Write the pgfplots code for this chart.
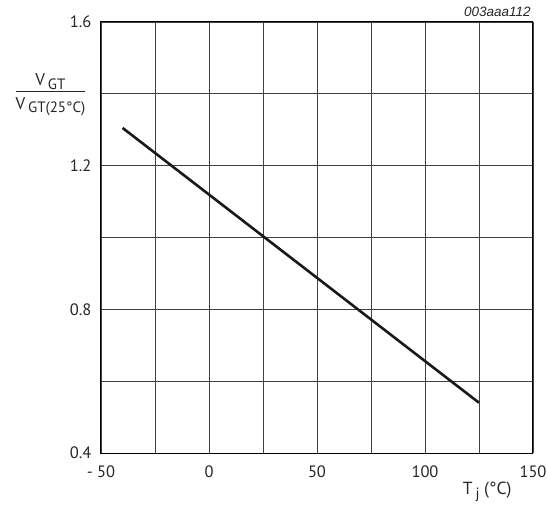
\documentclass[border=0pt]{standalone}
\usepackage{pgfplots}
\pgfplotsset{compat=1.18}
\usepackage{fontspec}
\setmainfont{PT Sans}
\newfontfamily\helv{Liberation Sans}
\begin{document}
\begin{tikzpicture}
\path[use as bounding box] (-101pt,-59pt) rectangle (446pt,453pt);
\begin{axis}[
  at={(0,0)}, anchor=south west,
  scale only axis, width=432pt, height=431pt,
  clip=false,
  xmin=-50, xmax=150, ymin=0.4, ymax=1.6,
  xtick={-50,0,50,100,150},
  xticklabels={- 50,0,50,100,150},
  minor xtick={-25,25,75,125},
  ytick={0.4,0.8,1.2,1.6},
  yticklabels={0.4,0.8,1.2,1.6},
  minor ytick={0.6,1.0,1.4},
  major tick length=0pt, minor tick length=0pt,
  grid=both,
  major grid style={line width=0.8pt, black!75},
  minor grid style={line width=0.8pt, black!75},
  axis line style={line width=1pt, black},
  /pgf/number format/assume math mode=true,
  tick label style={font=\fontsize{16.5}{19}\selectfont, text=black!85},
  xticklabel style={yshift=-9pt},
  yticklabel style={xshift=-6pt},
  xlabel={T\,\raisebox{-0.4ex}{\fontsize{15}{17}\selectfont j} (°C)},
  xlabel style={font=\fontsize{17.5}{20}\selectfont, text=black!85, at={(axis description cs:0.894,-0.09)}, anchor=center},
  ylabel={\begin{tabular}{@{}c@{}}V\,\raisebox{-0.4ex}{\fontsize{15}{17}\selectfont GT}\\[-1pt]\hline\rule{0pt}{18pt}V\,\raisebox{-0.4ex}{\fontsize{15}{17}\selectfont GT(25°C)}\end{tabular}},
  ylabel style={rotate=-90, font=\fontsize{17}{20}\selectfont, text=black!85, at={(axis description cs:-0.117,0.833)}, anchor=center},
]
\addplot[line width=2.6pt, black!90] coordinates {(-40,1.305) (125,0.54)};
\node[anchor=south east, font=\helv\itshape\fontsize{13.5}{15}\selectfont, text=black!85, inner sep=0pt] at (rel axis cs:0.995,1.012) {003aaa112};
\end{axis}
\end{tikzpicture}
\end{document}
